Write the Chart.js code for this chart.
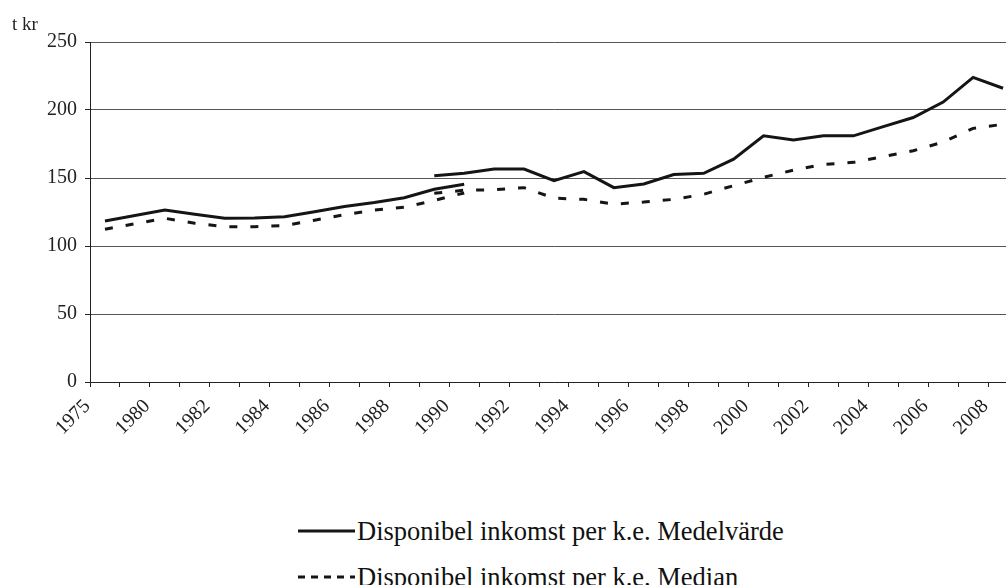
<!DOCTYPE html>
<html><head><meta charset="utf-8">
<script src="https://cdn.jsdelivr.net/npm/chart.js@4.4.0/dist/chart.umd.min.js"></script>
<style>
html,body{margin:0;padding:0;background:#fff;overflow:hidden;width:1006px;height:585px;position:relative;}
#wrap{position:absolute;left:0;top:0;width:1030px;height:460px;}
#legend{position:absolute;left:298px;top:0;font-family:"Liberation Serif","Times New Roman",serif;font-size:26.5px;color:#111;}
.row{position:absolute;left:0;white-space:nowrap;display:flex;align-items:center;height:30px;}
.row svg{margin-right:2px;}
</style></head><body>
<div id="wrap"><canvas id="c"></canvas></div>
<div id="legend"></div>
<script>
const categories = ['1975','', '1980','1981','1982','1983','1984','1985','1986','1987','1988','1989','1990',
  '1991','1992','1993','1994','1995','1996','1997','1998','1999','2000','2001','2002','2003','2004','2005','2006','2007','2008'];
const yTicks = [0, 50, 100, 150, 200, 250];
const meanOld = [118.4, null, 126.4, 123.3, 120.4, 120.6, 121.5, 125.2, 129, 132, 135.5, 141.7, 145.4,
  null, null, null, null, null, null, null, null, null, null, null, null, null, null, null, null, null, null];
const meanNew = [null, null, null, null, null, null, null, null, null, null, null,
  151.7, 153.5, 156.6, 156.6, 148, 154.7, 142.9, 145.6, 152.5, 153.5, 163.8, 181, 178, 181, 181, 187.8, 194.5, 205.8, 224, 216];
const medianOld = [112.3, null, 120.4, 116.7, 114.2, 114.2, 115, 119, 123, 126.5, 128.5, 133.5, 139,
  null, null, null, null, null, null, null, null, null, null, null, null, null, null, null, null, null, null];
const medianNew = [null, null, null, null, null, null, null, null, null, null, null,
  138.8, 141, 141.4, 142.9, 135.2, 134.3, 130.8, 132.3, 134.3, 138, 144.4, 150.5, 155.8, 160, 161.5, 165.7, 170, 176.5, 186.5, 189.5];
const seriesNames = ['Disponibel inkomst per k.e. Medelvärde', 'Disponibel inkomst per k.e. Median'];
const unitLabel = 't kr';

const FONT = '"Liberation Serif","Times New Roman",serif';
const LINE = '#151515';
const solid = [];
const dashed = [8, 13];

const unitPlugin = {
  id: 'unitLabel',
  afterDraw(chart) {
    const ctx = chart.ctx;
    ctx.save();
    ctx.font = '19px ' + FONT;
    ctx.fillStyle = '#222';
    ctx.textAlign = 'left';
    ctx.textBaseline = 'alphabetic';
    ctx.fillText(unitLabel, 12, 30);
    ctx.restore();
  }
};

function ds(label, data, dash, inLegend) {
  return { label, data, borderColor: LINE, backgroundColor: LINE, borderWidth: 3, borderDash: dash,
    pointRadius: 0, pointHoverRadius: 0, tension: 0, spanGaps: true, fill: false, inLegend };
}

const chart = new Chart(document.getElementById('c'), {
  type: 'line',
  data: {
    labels: categories,
    datasets: [
      ds(seriesNames[0], meanNew, solid, true),
      ds(seriesNames[0], meanOld, solid, false),
      ds(seriesNames[1], medianNew, dashed, true),
      ds(seriesNames[1], medianOld, dashed, false)
    ]
  },
  plugins: [unitPlugin],
  options: {
    responsive: true, maintainAspectRatio: false, animation: false,
    layout: { padding: { top: 42, right: 12, bottom: 18, left: 0 } },
    plugins: { legend: { display: false }, tooltip: { enabled: false } },
    scales: {
      x: {
        type: 'category', offset: true,
        grid: { offset: true, drawOnChartArea: false, tickLength: 5, color: '#222', tickColor: '#222' },
        border: { color: '#222', width: 1 },
        afterFit(s) { s.height = 60; },
        ticks: {
          autoSkip: false, maxRotation: 45, minRotation: 45, padding: -10,
          font: { family: FONT, size: 20 }, color: '#222',
          callback(v, i) { return i % 2 === 0 ? categories[i] + '     ' : ''; }
        }
      },
      y: {
        min: 0, max: 250,
        afterFit(s) { s.width = 90; },
        afterBuildTicks(s) { s.ticks = yTicks.map(v => ({ value: v })); },
        grid: { color: '#555', tickLength: 5, tickColor: '#222' },
        border: { color: '#222', width: 1 },
        ticks: { padding: 8, font: { family: FONT, size: 20 }, color: '#222' }
      }
    }
  }
});

// HTML legend from chart datasets
const legend = document.getElementById('legend');
const rowsTop = [516, 562];
chart.data.datasets.filter(d => d.inLegend).forEach((d, i) => {
  const row = document.createElement('div');
  row.className = 'row';
  row.style.top = rowsTop[i] + 'px';
  const dash = d.borderDash && d.borderDash.length ? 'stroke-dasharray="7 6"' : '';
  row.innerHTML = '<svg width="57" height="6"><line x1="0" y1="3" x2="57" y2="3" stroke="' + d.borderColor +
    '" stroke-width="3" ' + dash + '/></svg><span>' + d.label + '</span>';
  legend.appendChild(row);
});
</script>
</body></html>
